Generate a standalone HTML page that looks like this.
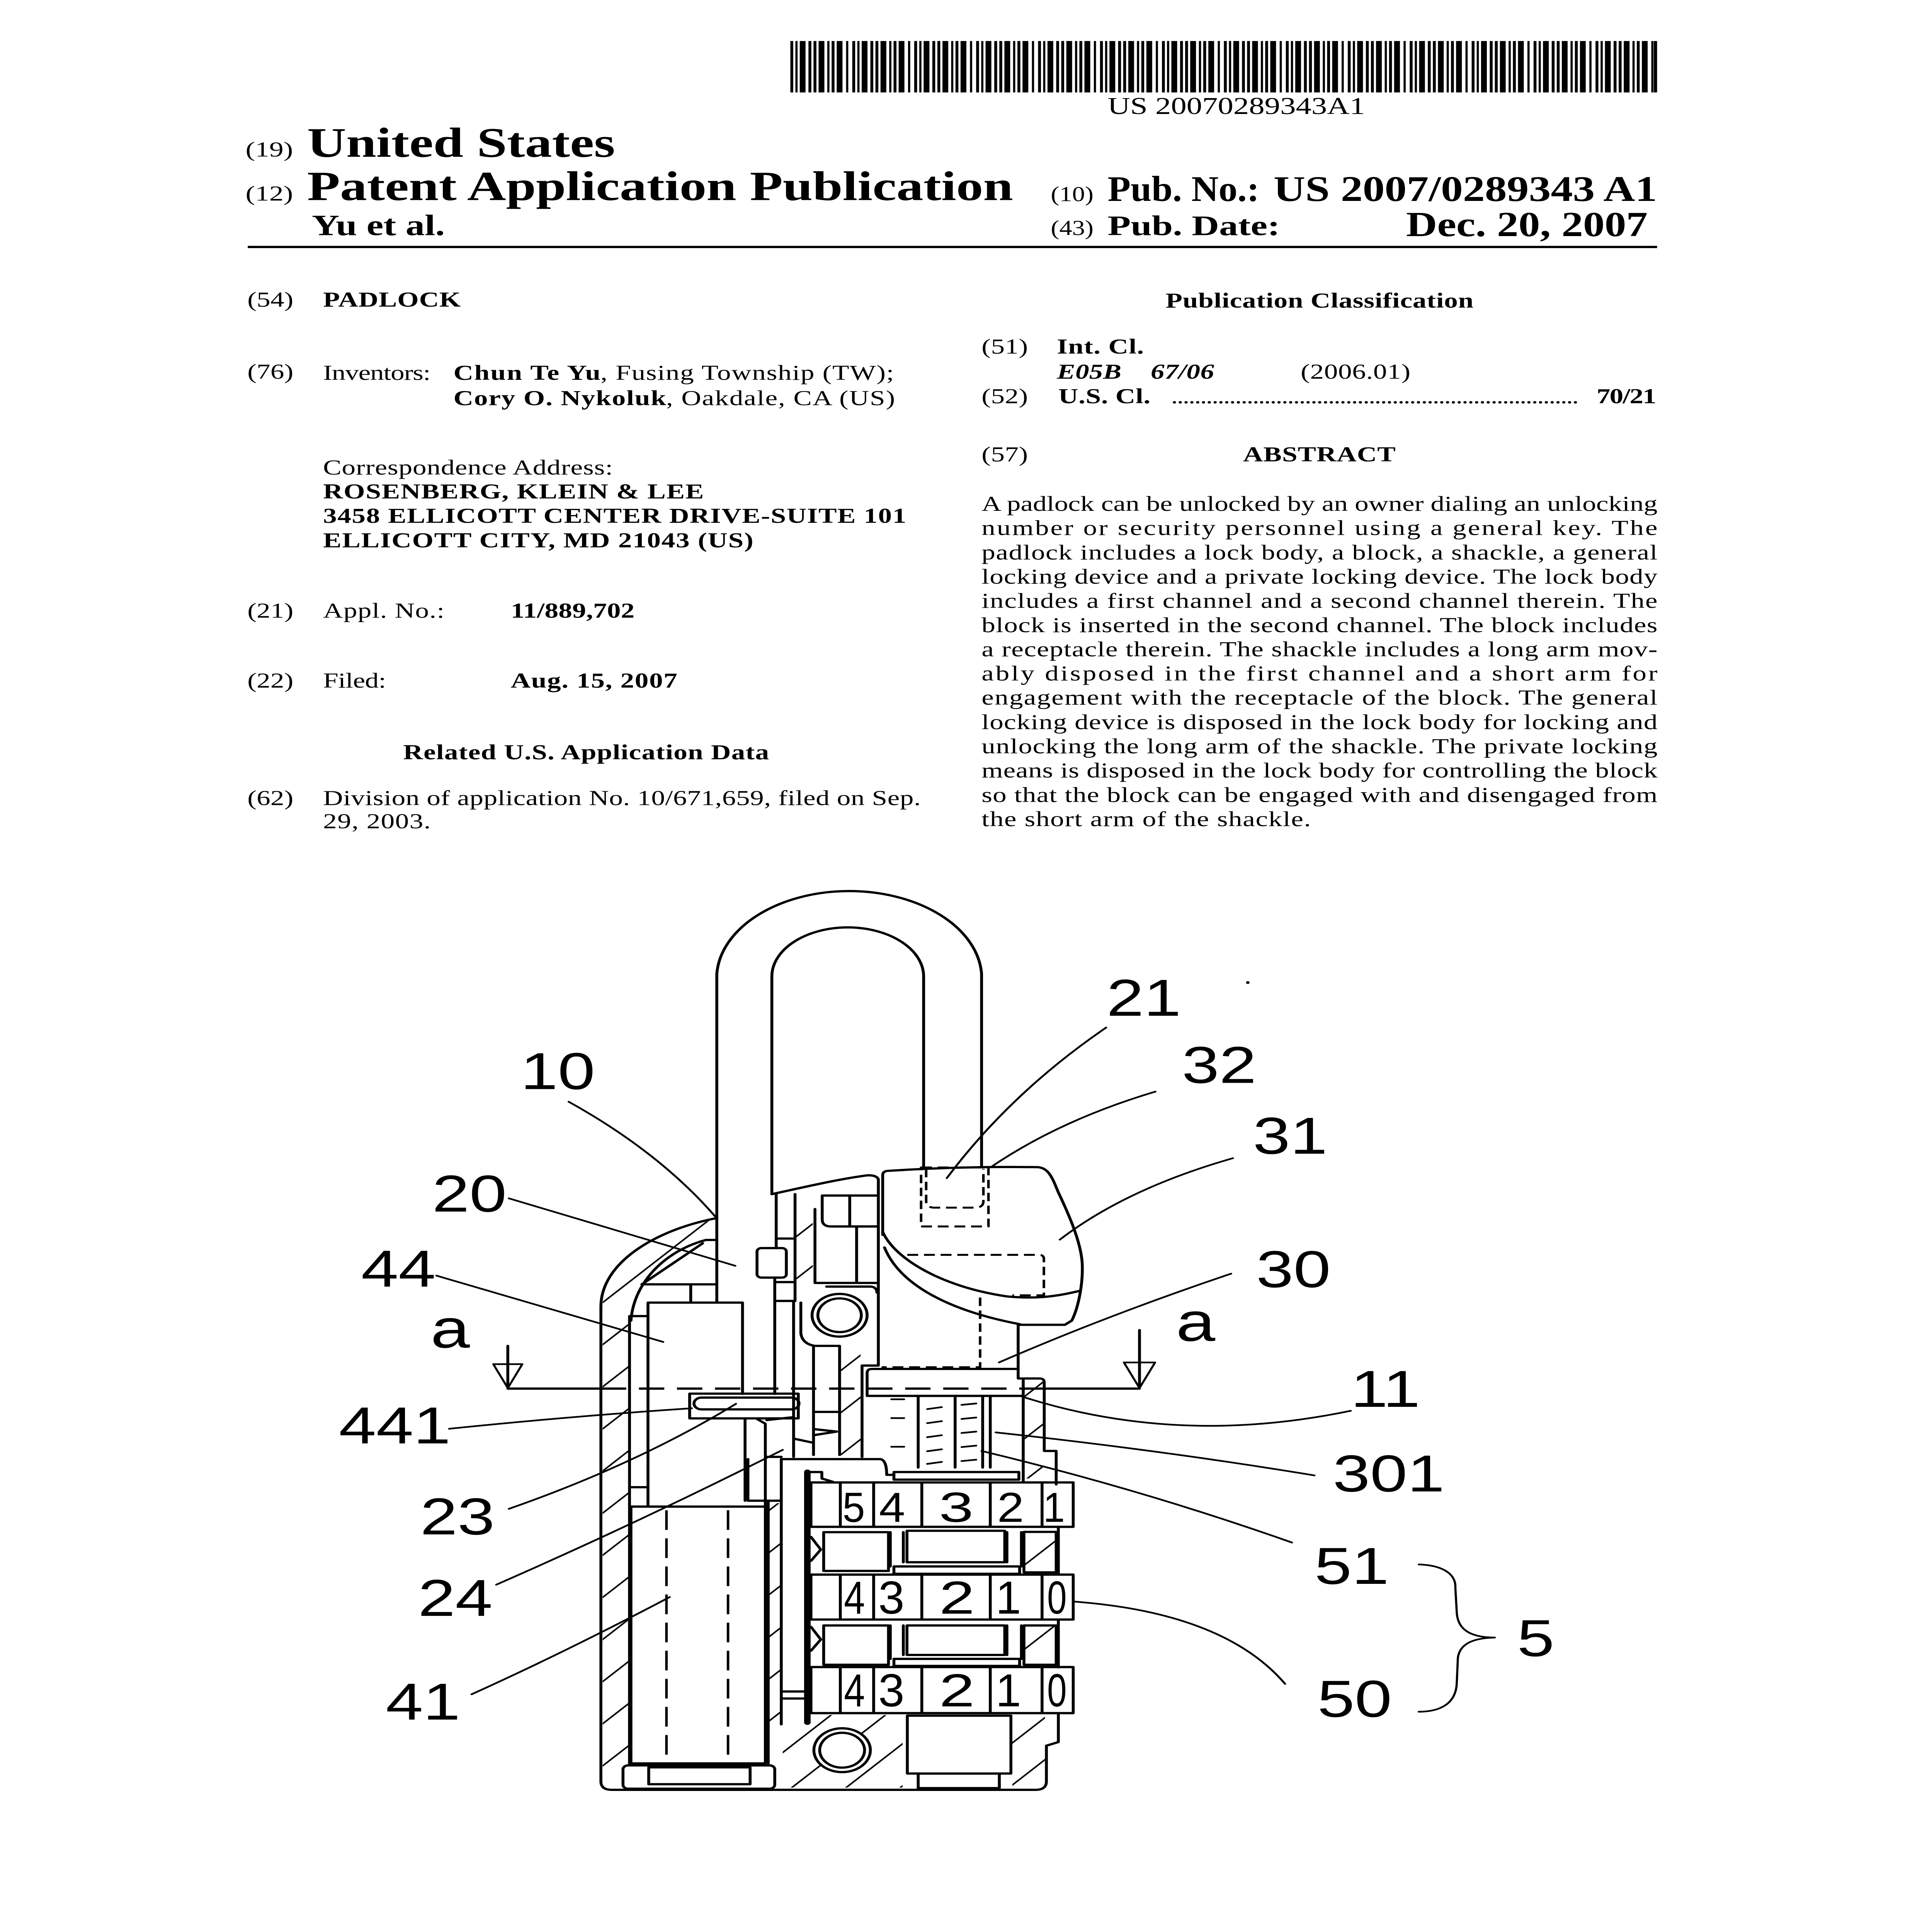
<!DOCTYPE html>
<html><head><meta charset="utf-8"><style>
html,body{margin:0;padding:0;background:#fff;overflow:hidden;width:100%;height:100%}
svg{display:block;width:100vw;height:100vh;position:absolute;left:0;top:0}
.s{font-family:"Liberation Serif","Times New Roman",serif}
.b{font-weight:bold}
.i{font-style:italic}
.l{font-family:"Liberation Sans",Arial,sans-serif}
</style></head><body>
<svg viewBox="0 0 5334 6876" preserveAspectRatio="none" xmlns="http://www.w3.org/2000/svg">
<defs>
<pattern id="bc" patternUnits="userSpaceOnUse" x="2182" y="146" width="171" height="183">
<rect x="0" y="0" width="8" height="183"/><rect x="14" y="0" width="6" height="183"/><rect x="26" y="0" width="16" height="183"/><rect x="50" y="0" width="8" height="183"/><rect x="64" y="0" width="8" height="183"/><rect x="78" y="0" width="16" height="183"/><rect x="102" y="0" width="6" height="183"/><rect x="114" y="0" width="8" height="183"/><rect x="128" y="0" width="16" height="183"/><rect x="154" y="0" width="6" height="183"/>
</pattern>
<pattern id="h" patternUnits="userSpaceOnUse" width="106" height="106" patternTransform="rotate(45)">
<rect x="0" y="0" width="5" height="106" fill="#000"/>
</pattern>
</defs>
<rect width="5334" height="6876" fill="#fff"/>

<!-- barcode -->
<rect x="2182" y="146" width="2394" height="183" fill="url(#bc)"/>
<rect x="4566" y="146" width="9" height="183"/>
<text class="s" x="3058" y="406" font-size="86" textLength="711" lengthAdjust="spacingAndGlyphs">US 20070289343A1</text>

<!-- header -->
<text class="s" x="678" y="557" font-size="76" textLength="131" lengthAdjust="spacingAndGlyphs">(19)</text>
<text class="s b" x="848" y="558" font-size="150" textLength="850" lengthAdjust="spacingAndGlyphs">United States</text>
<text class="s" x="678" y="714" font-size="76" textLength="131" lengthAdjust="spacingAndGlyphs">(12)</text>
<text class="s b" x="848" y="712" font-size="148" textLength="1949" lengthAdjust="spacingAndGlyphs">Patent Application Publication</text>
<text class="s" x="2901" y="716" font-size="76" textLength="118" lengthAdjust="spacingAndGlyphs">(10)</text>
<text class="s b" x="3058" y="715" font-size="128" textLength="419" lengthAdjust="spacingAndGlyphs">Pub. No.:</text>
<text class="s b" x="3516" y="715" font-size="128" textLength="1059" lengthAdjust="spacingAndGlyphs">US 2007/0289343 A1</text>
<text class="s b" x="861" y="837" font-size="105" textLength="367" lengthAdjust="spacingAndGlyphs">Yu et al.</text>
<text class="s" x="2901" y="836" font-size="76" textLength="118" lengthAdjust="spacingAndGlyphs">(43)</text>
<text class="s b" x="3058" y="837" font-size="100" textLength="476" lengthAdjust="spacingAndGlyphs">Pub. Date:</text>
<text class="s b" x="3882" y="840" font-size="125" textLength="667" lengthAdjust="spacingAndGlyphs">Dec. 20, 2007</text>
<rect x="684" y="875" width="3891" height="8"/>

<!-- left column -->
<g class="s" font-size="76">
<text x="683" y="1091" textLength="127">(54)</text>
<text class="b" x="892" y="1091" textLength="380">PADLOCK</text>
<text x="683" y="1348" textLength="127">(76)</text>
<text x="892" y="1352" textLength="297">Inventors:</text>
<text class="b" x="1252" y="1352" textLength="406">Chun Te Yu</text>
<text x="1658" y="1352" textLength="810">, Fusing Township (TW);</text>
<text class="b" x="1252" y="1442" textLength="587">Cory O. Nykoluk</text>
<text x="1839" y="1442" textLength="632">, Oakdale, CA (US)</text>
<text x="892" y="1689" textLength="800">Correspondence Address:</text>
<text class="b" x="892" y="1774" textLength="1051">ROSENBERG, KLEIN &amp; LEE</text>
<text class="b" x="892" y="1861" textLength="1610">3458 ELLICOTT CENTER DRIVE-SUITE 101</text>
<text class="b" x="892" y="1948" textLength="1188">ELLICOTT CITY, MD 21043 (US)</text>
<text x="683" y="2198" textLength="127">(21)</text>
<text x="892" y="2198" textLength="335">Appl. No.:</text>
<text class="b" x="1410" y="2198" textLength="342">11/889,702</text>
<text x="683" y="2447" textLength="127">(22)</text>
<text x="892" y="2447" textLength="174">Filed:</text>
<text class="b" x="1410" y="2447" textLength="460">Aug. 15, 2007</text>
<text class="b" x="1113" y="2702" textLength="1010">Related U.S. Application Data</text>
<text x="683" y="2865" textLength="127">(62)</text>
<text x="892" y="2865" textLength="1650">Division of application No. 10/671,659, filed on Sep.</text>
<text x="892" y="2948" textLength="297">29, 2003.</text>
</g>

<!-- right column -->
<g class="s" font-size="76">
<text class="b" x="3218" y="1095" textLength="850">Publication Classification</text>
<text x="2710" y="1258" textLength="128">(51)</text>
<text class="b" x="2918" y="1258" textLength="240">Int. Cl.</text>
<text class="b i" x="2918" y="1348" textLength="178">E05B</text>
<text class="b i" x="3177" y="1348" textLength="175">67/06</text>
<text x="3591" y="1348" textLength="303">(2006.01)</text>
<text x="2710" y="1435" textLength="128">(52)</text>
<text class="b" x="2922" y="1435" textLength="254">U.S. Cl.</text>
<text x="3233" y="1435" textLength="1126" lengthAdjust="spacing">......................................................................</text>
<text class="b" x="4408" y="1435" textLength="165">70/21</text>
<text x="2710" y="1642" textLength="128">(57)</text>
<text class="b" x="3432" y="1642" textLength="421">ABSTRACT</text>
<text x="2710" y="1818" textLength="1866">A padlock can be unlocked by an owner dialing an unlocking</text>
<text x="2710" y="1904" textLength="1866">number or security personnel using a general key. The</text>
<text x="2710" y="1991" textLength="1866">padlock includes a lock body, a block, a shackle, a general</text>
<text x="2710" y="2077" textLength="1866">locking device and a private locking device. The lock body</text>
<text x="2710" y="2163" textLength="1866">includes a first channel and a second channel therein. The</text>
<text x="2710" y="2250" textLength="1866">block is inserted in the second channel. The block includes</text>
<text x="2710" y="2336" textLength="1866">a receptacle therein. The shackle includes a long arm mov-</text>
<text x="2710" y="2422" textLength="1866">ably disposed in the first channel and a short arm for</text>
<text x="2710" y="2508" textLength="1866">engagement with the receptacle of the block. The general</text>
<text x="2710" y="2595" textLength="1866">locking device is disposed in the lock body for locking and</text>
<text x="2710" y="2681" textLength="1866">unlocking the long arm of the shackle. The private locking</text>
<text x="2710" y="2767" textLength="1866">means is disposed in the lock body for controlling the block</text>
<text x="2710" y="2854" textLength="1866">so that the block can be engaged with and disengaged from</text>
<text x="2710" y="2940" textLength="909">the short arm of the shackle.</text>
</g>

<!-- ============ DRAWING ============ -->
<!-- hatching -->
<g stroke="none" fill="url(#h)">
<path d="M1664,6335 L1664,4650 C1664,4510 1800,4390 1975,4340 L1975,4410 L1949,4418 C1840,4455 1750,4560 1737,4700 L1737,6335 Z"/>
<rect x="2829" y="4912" width="50" height="350"/>
<rect x="2161" y="6104" width="331" height="258"/>
<rect x="2795" y="6104" width="90" height="258"/>
<rect x="2831" y="5456" width="81" height="136"/>
<rect x="2831" y="5789" width="81" height="132"/>
<rect x="2322" y="4795" width="54" height="385"/>
<rect x="2199" y="4255" width="45" height="300"/>
<rect x="2124" y="5350" width="30" height="780"/>
</g>

<g fill="none" stroke="#000" stroke-width="8" stroke-linejoin="round" stroke-linecap="round">
<!-- shackle -->
<path d="M1979,4636 V3466 A366,311 0 0 1 2710,3466 V4152"/>
<path d="M2131,4250 V3475 A209,174 0 0 1 2550,3475 V4160"/>
<!-- cap 31 -->
<path d="M2437,4395 V4182 Q2437,4168 2452,4167 Q2660,4150 2866,4154 C2895,4158 2905,4190 2921,4241 C2950,4320 2985,4420 2988,4500 C2990,4580 2975,4660 2959,4700 L2940,4715 H2811"/>
<path d="M2437,4384 C2470,4480 2600,4580 2780,4614 C2870,4625 2930,4610 2978,4595"/>
<path d="M2442,4440 C2480,4560 2600,4660 2816,4713"/>
<g stroke-dasharray="30 16" stroke-width="7" stroke-linecap="butt">
<rect x="2543" y="4155" width="186" height="210"/>
<path d="M2557,4160 V4275 Q2557,4298 2580,4298 H2692 Q2715,4298 2715,4275 V4160"/>
<path d="M2505,4466 H2868 Q2882,4466 2882,4480 V4610 H2795"/>
<path d="M2706,4618 V4866 H2434"/>
</g>
<!-- body outline -->
<path d="M1659,4650 C1659,4500 1800,4380 1979,4335"/>
<path d="M2131,4250 C2220,4225 2320,4195 2395,4183 Q2420,4182 2425,4197 V4860 H2380 V5185"/>
<path d="M1659,4650 V6340 Q1659,6370 1689,6370 H2859 Q2889,6370 2889,6340 V6213 L2922,6200 V6099"/>
<path d="M2922,5434 V5604 M2922,5764 V5934"/>
<path d="M2811,4715 V4906 H2870 Q2883,4906 2883,4920 V5164 H2916 V5283"/>
<path d="M2825,4912 V5270"/>
<path d="M2394,4968 V4886 Q2394,4872 2408,4872 H2811 M2394,4968 H2825"/>
<!-- inner arc / wedge -->
<path d="M1742,4700 C1750,4560 1840,4450 1949,4413 H1979"/>
<path d="M1772,4571 H1979 M1772,4571 L1940,4425 M1907,4571 V4636"/>
<!-- block 44 and channel -->
<path d="M1789,5360 V4636 H2050 V4961"/>
<path d="M1738,4684 H1789 M1738,4684 V6280 M1738,5293 H1789"/>
<!-- cylinder 41 -->
<rect x="1742" y="5362" width="371" height="914"/>
<path stroke-dasharray="70 30" stroke-width="7" stroke-linecap="butt" d="M1840,5375 V6270 M2010,5375 V6270"/>
<rect x="1720" y="6283" width="419" height="83" rx="14"/>
<rect x="1791" y="6290" width="280" height="60"/>
<rect x="2505" y="6106" width="286" height="206"/>
<rect x="2535" y="6312" width="224" height="52"/>
<!-- pin 441 -->
<rect x="1904" y="4960" width="300" height="88"/>
<rect x="1916" y="4974" width="290" height="42" rx="21"/>
<path d="M2057,5050 V5341 M2090,5050 L2113,5067 V5362"/>
<path d="M2065,5193 V5341 H2152"/>
<!-- rod -->
<path d="M2143,4250 V4438 M2195,4250 V4630 M2139,4550 V4961 M2191,4630 V5185 M2143,4408 H2195 M2139,4563 H2191 M2139,4630 H2191"/>
<rect x="2090" y="4442" width="81" height="105" rx="12"/>
<path d="M2270,4255 H2423 M2270,4255 V4340 Q2270,4365 2295,4365 H2423 M2346,4255 V4365 M2250,4303 V4566 H2423 M2365,4365 V4566"/>
<path d="M2211,4636 V4745 Q2215,4783 2250,4790 M2282,4579 H2405 Q2421,4582 2421,4600"/>
<circle cx="2318" cy="4681" r="76" fill="#fff"/>
<circle cx="2318" cy="4681" r="60"/>
<path d="M2246,4790 V5178 M2318,4790 V5178 M2246,4790 H2318 M2246,5025 H2318"/>
<path d="M2117,5054 L2188,5044 M2246,5086 L2310,5095 L2246,5108 M2191,5120 L2246,5135"/>
<!-- lower horizontals -->
<path d="M2113,5185 H2157 M2157,6137 V5193 H2430 Q2448,5196 2448,5249 H2468"/>
<rect x="2468" y="5239" width="345" height="27"/>
<path d="M2229,5239 V6130" stroke-width="18"/>
<path d="M2229,5239 H2269 V5262 L2300,5274"/>
<path d="M2121,5341 V6276 M2157,6020 H2224 M2157,6045 H2224"/>
<!-- springs -->
<path d="M2535,4973 V5223 M2637,4973 V5223 M2713,4973 V5223 M2734,4973 V5223"/>
<g stroke-width="6">
<path d="M2560,5015 L2600,5008 M2560,5065 L2600,5058 M2560,5115 L2600,5108 M2560,5165 L2600,5158 M2560,5210 L2600,5203"/>
<path d="M2655,5000 L2695,4995 M2655,5050 L2695,5045 M2655,5100 L2695,5095 M2655,5150 L2695,5145 M2655,5200 L2695,5195"/>
<path d="M2461,4980 L2496,4980 M2461,5047 L2496,5047 M2461,5149 L2496,5149"/>
</g>
<!-- dials -->
<rect x="2239" y="5276" width="724" height="158"/>
<path d="M2320,5276 V5434 M2412,5276 V5434 M2545,5276 V5434 M2734,5276 V5434 M2877,5276 V5434"/>
<rect x="2239" y="5604" width="724" height="160"/>
<path d="M2320,5604 V5764 M2412,5604 V5764 M2545,5604 V5764 M2734,5604 V5764 M2877,5604 V5764"/>
<rect x="2239" y="5933" width="724" height="164"/>
<path d="M2320,5933 V6097 M2412,5933 V6097 M2545,5933 V6097 M2734,5933 V6097 M2877,5933 V6097"/>
<rect x="2274" y="5453" width="179" height="138"/>
<rect x="2504" y="5448" width="270" height="112"/>
<rect x="2468" y="5575" width="347" height="26"/>
<rect x="2827" y="5452" width="89" height="144"/>
<path d="M2458,5453 V5575 M2494,5453 V5560 M2780,5453 V5560 M2820,5453 V5575"/>
<rect x="2274" y="5785" width="179" height="140"/>
<rect x="2504" y="5785" width="270" height="105"/>
<rect x="2468" y="5904" width="347" height="25"/>
<rect x="2827" y="5785" width="89" height="140"/>
<path d="M2458,5785 V5904 M2494,5785 V5890 M2780,5785 V5890 M2820,5785 V5904"/>
<path d="M2239,5470 L2266,5515 L2239,5555 M2239,5790 L2266,5835 L2239,5875"/>
<circle cx="2325" cy="6229" r="78" fill="#fff"/>
<circle cx="2325" cy="6229" r="62"/>
<!-- section line a-a -->
<path d="M1402,4942 H1659 M2883,4942 H3146"/>
<path stroke-dasharray="70 35" stroke-linecap="butt" d="M1659,4942 H2883"/>
<path d="M1402,4790 V4930 M3146,4734 V4930"/>
<path d="M1362,4855 H1442 L1402,4940 Z M3103,4849 H3189 L3146,4940 Z" stroke-width="6"/>
<!-- leaders -->
<g stroke-width="6">
<path d="M3054,3657 Q2790,3890 2614,4193"/>
<path d="M3190,3885 Q2930,3985 2740,4150"/>
<path d="M3404,4122 Q3110,4230 2926,4412"/>
<path d="M3399,4533 Q3060,4680 2758,4849"/>
<path d="M1570,3921 Q1820,4100 1975,4330"/>
<path d="M1405,4265 Q1720,4385 2030,4505"/>
<path d="M1205,4540 Q1500,4650 1831,4776"/>
<path d="M1240,5085 Q1580,5040 1910,5012"/>
<path d="M1405,5370 Q1760,5210 2032,4996"/>
<path d="M1370,5640 Q1760,5420 2161,5160"/>
<path d="M1302,6030 Q1560,5880 1849,5684"/>
<path d="M3729,5021 Q3250,5150 2816,4968"/>
<path d="M3629,5251 Q3200,5160 2749,5098"/>
<path d="M3567,5490 Q3150,5300 2710,5164"/>
<path d="M3548,5993 Q3380,5740 2965,5700"/>
<path d="M3917,5568 C3980,5570 4020,5600 4018,5650 L4022,5740 C4025,5800 4060,5828 4127,5828 C4060,5830 4030,5855 4025,5900 L4022,5989 C4020,6060 3980,6092 3917,6092"/>
</g>
</g>
<circle cx="3445" cy="3497" r="5"/>

<!-- dial digits -->
<g class="l" font-size="150" text-anchor="middle">
<text x="2357" y="5416" textLength="62" lengthAdjust="spacingAndGlyphs">5</text>
<text x="2463" y="5416" textLength="72" lengthAdjust="spacingAndGlyphs">4</text>
<text x="2640" y="5416" textLength="95" lengthAdjust="spacingAndGlyphs">3</text>
<text x="2790" y="5416" textLength="74" lengthAdjust="spacingAndGlyphs">2</text>
<text x="2910" y="5416" textLength="60" lengthAdjust="spacingAndGlyphs">1</text>
</g>
<g class="l" font-size="165" text-anchor="middle">
<text x="2359" y="5743" textLength="58" lengthAdjust="spacingAndGlyphs">4</text>
<text x="2461" y="5743" textLength="72" lengthAdjust="spacingAndGlyphs">3</text>
<text x="2642" y="5743" textLength="98" lengthAdjust="spacingAndGlyphs">2</text>
<text x="2784" y="5743" textLength="70" lengthAdjust="spacingAndGlyphs">1</text>
<text x="2918" y="5743" textLength="54" lengthAdjust="spacingAndGlyphs">0</text>
<text x="2359" y="6073" textLength="58" lengthAdjust="spacingAndGlyphs">4</text>
<text x="2461" y="6073" textLength="72" lengthAdjust="spacingAndGlyphs">3</text>
<text x="2642" y="6073" textLength="98" lengthAdjust="spacingAndGlyphs">2</text>
<text x="2784" y="6073" textLength="70" lengthAdjust="spacingAndGlyphs">1</text>
<text x="2918" y="6073" textLength="54" lengthAdjust="spacingAndGlyphs">0</text>
</g>

<!-- reference labels -->
<g class="l" font-size="185" text-anchor="middle">
<text x="3158" y="3615">21</text>
<text x="3366" y="3854">32</text>
<text x="3562" y="4106">31</text>
<text x="1540" y="3876">10</text>
<text x="1296" y="4312">20</text>
<text x="1100" y="4579">44</text>
<text x="1243" y="4796" font-size="195">a</text>
<text x="3571" y="4581">30</text>
<text x="3301" y="4772" font-size="195">a</text>
<text x="3825" y="5007">11</text>
<text x="1090" y="5137">441</text>
<text x="3834" y="5308">301</text>
<text x="1263" y="5461">23</text>
<text x="3732" y="5637">51</text>
<text x="1257" y="5751">24</text>
<text x="4240" y="5894">5</text>
<text x="1168" y="6120">41</text>
<text x="3740" y="6110">50</text>
</g>
</svg>
</body></html>
